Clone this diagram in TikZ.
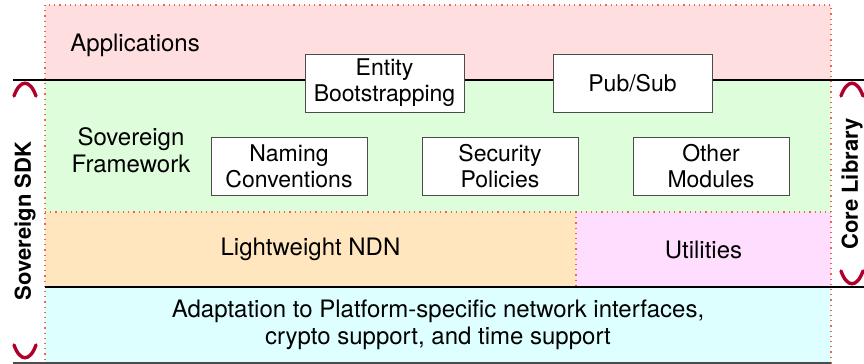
\documentclass[tikz,border=0pt]{standalone}
\usepackage{fontspec}
\setmainfont{TeX Gyre Heros}
\usetikzlibrary{positioning}

\definecolor{appfill}{HTML}{FFDEDF}
\definecolor{fwfill}{HTML}{DDFDDB}
\definecolor{ndnfill}{HTML}{FFE6BE}
\definecolor{utilfill}{HTML}{FFDDFF}
\definecolor{adaptfill}{HTML}{DDFFFF}
\definecolor{sepred}{HTML}{F06448}
\definecolor{bracered}{HTML}{B0002A}

\begin{document}
\begin{tikzpicture}[
    x=0.5pt, y=-0.5pt,
    node distance=27pt,
    every node/.style={font=\fontsize{12}{13.5}\selectfont},
    layer/.style={rectangle, inner sep=0pt, outer sep=0pt, anchor=north west, align=center},
    box/.style={rectangle, draw=black!70, fill=white, line width=0.5pt, minimum width=78pt, minimum height=29pt, inner sep=0pt, align=center, font=\fontsize{11.5}{13}\selectfont},
    caption/.style={inner sep=0pt, align=center},
    divider/.style={line width=1pt, draw=black},
    sep/.style={dotted, draw=sepred, line width=0.6pt},
    brace/.style={line width=1.7pt, draw=bracered, line cap=round},
    side/.style={rotate=90, inner sep=0pt, font=\bfseries\fontsize{11}{13}\selectfont}
]
\useasboundingbox (0,0) rectangle (864,364);

% Layers
\node[layer, fill=appfill, minimum width=393pt, minimum height=37.5pt] (apps) at (45,5) {};
\node[layer, fill=fwfill, minimum width=393pt, minimum height=66pt] (fw) at (45,80) {};
\node[layer, fill=ndnfill, minimum width=265.5pt, minimum height=37.5pt] (ndn) at (45,212) {Lightweight NDN};
\node[layer, fill=utilfill, minimum width=127.5pt, minimum height=37.5pt] (util) at (ndn.north east) {Utilities};
\node[layer, fill=adaptfill, minimum width=393pt, minimum height=38pt] (adapt) at (45,287) {Adaptation to Platform-specific network interfaces,\\crypto support, and time support};

% Outline and separators
\draw[sep] (apps.north west) rectangle (adapt.south east);
\draw[sep] (ndn.north west) -- (util.north east);
\draw[sep] (util.north west) -- (util.south west);

% Dividers
\coordinate (lft) at (13,0);
\coordinate (rgt) at (864,0);
\draw[divider] (apps.south west -| lft) -- (apps.south east -| rgt);
\draw[divider] (adapt.north west) -- (adapt.north east -| rgt);
\draw[divider, draw=black!70, line width=0.8pt] (adapt.south west -| lft) -- (adapt.south east);

% Layer captions
\node[caption, anchor=west] (apptext) at (70,45) {Applications};
\node[caption] (fwtext) at (131,150) {Sovereign\\Framework};

% Modules
\node[box, minimum width=79.5pt] (entity) at (384.5,83) {Entity\\Bootstrapping};
\node[box, minimum width=79.5pt, right=44pt of entity] (pubsub) {Pub/Sub};
\node[box] (naming) at (289,166) {Naming\\Conventions};
\node[box, right=of naming] (security) {Security\\Policies};
\node[box, right=of security] (other) {Other\\Modules};

% Brackets
\draw[brace] (14,96) .. controls (20,79) and (30,79) .. (36,96);
\draw[brace] (14,345) .. controls (20,362) and (30,362) .. (36,345);
\draw[brace] (841,96) .. controls (847,79) and (857,79) .. (863,96);
\draw[brace] (841,271) .. controls (847,288) and (857,288) .. (863,271);
\node[side] (sdk) at (25,221) {Sovereign SDK};
\node[side] (core) at (852,184) {Core Library};

\end{tikzpicture}
\end{document}
